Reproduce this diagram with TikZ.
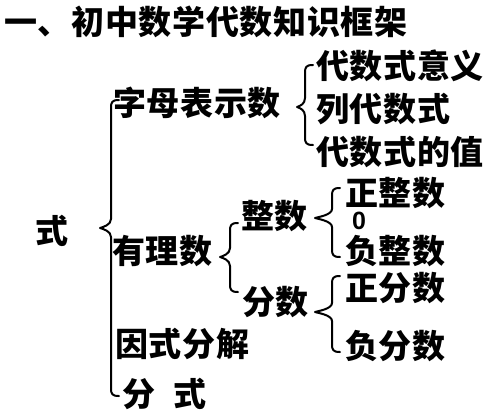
\documentclass[tikz,border=0pt]{standalone}
\usepackage{fontspec}
\setmainfont{Noto Sans CJK SC}
\newfontfamily\latinfont{Liberation Sans}
\begin{document}
\begin{tikzpicture}[x=1pt,y=-1pt,
  lab/.style={anchor=west,inner sep=0pt,font=\fontsize{33}{33}\selectfont\bfseries\addfontfeature{LetterSpace=2}},
  zerolab/.style={anchor=base west,inner sep=0pt,font=\latinfont\fontsize{25}{25}\selectfont\bfseries},
  brc/.style={line width=2pt,line cap=round,line join=round}]
\useasboundingbox (0,0) rectangle (486,413);
\newcommand{\bracepath}[6]{% xv, xtip, top, tip, bottom, hook
  \draw[brc] ({#1+#6},#3) .. controls ({#1+1},#3) and (#1,{#3+2}) .. (#1,{#3+8})
    -- (#1,{#4-9}) .. controls (#1,{#4-3}) and ({#2+3},{#4-1}) .. (#2,#4)
    .. controls ({#2+3},{#4+1}) and (#1,{#4+3}) .. (#1,{#4+9})
    -- (#1,{#5-8}) .. controls (#1,{#5-2}) and ({#1+1},#5) .. ({#1+#6},#5);}
\node[lab] (title) at (4,22) {一、初中数学代数知识框架};
\node[lab] (shi) at (35,231) {式};
\node[lab] (zimu) at (113,103) {字母表示数};
\node[lab] (yy) at (316,66) {代数式意义};
\node[lab] (lie) at (316,109) {列代数式};
\node[lab] (zhi) at (316,152) {代数式的值};
\node[lab] (youli) at (112,251) {有理数};
\node[lab] (zheng) at (241,216) {整数};
\node[lab] (fen) at (242,302) {分数};
\node[lab] (zz) at (345,193) {正整数};
\node[zerolab] (zero) at (352,229) {0};
\node[lab] (fz) at (345,251) {负整数};
\node[lab] (zf) at (345,288) {正分数};
\node[lab] (ff) at (345,346) {负分数};
\node[lab] (yinshi) at (115,344) {因式分解};
\node[lab] (fenshi) at (122,394) {分\hspace{18pt}式};
\bracepath{111}{100}{100}{228}{396}{8}
\bracepath{305}{297}{65}{107}{145}{8}
\bracepath{230}{220}{223}{257}{292}{8}
\bracepath{332}{315}{188}{218}{257}{8}
\bracepath{332}{315}{276}{312}{352}{8}
\end{tikzpicture}
\end{document}
